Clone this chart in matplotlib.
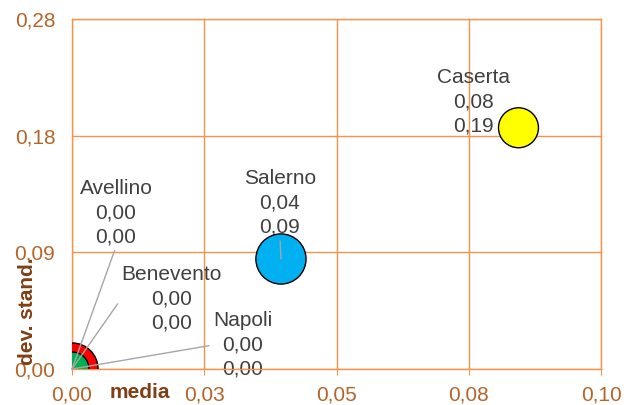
import numpy as np
import matplotlib.pyplot as plt

plt.rcParams['font.family'] = ['Liberation Sans', 'DejaVu Sans']

# dati
province = ['Avellino', 'Napoli', 'Benevento', 'Caserta', 'Salerno']
media = [0.0, 0.0, 0.0, 0.0844, 0.0395]
dev_stand = [0.0, 0.0, 0.0, 0.193, 0.088]
peso = [0.10, 0.68, 0.29, 0.40, 0.63]
colori = ['#7030A0', '#FF0000', '#00B050', '#FFFF00', '#00B0F0']

x_ticks = [0, 0.025, 0.05, 0.075, 0.10]
x_labels = ['0,00', '0,03', '0,05', '0,08', '0,10']
y_ticks = [0, 0.28 / 3, 0.56 / 3, 0.28]
y_labels = ['0,00', '0,09', '0,18', '0,28']

# posizione delle etichette (offset in punti) e attacco della linea guida
offset = {'Avellino': (31.7, 112.5), 'Benevento': (71.6, 50.6), 'Napoli': (123, 17.3),
          'Caserta': (-32.4, 18.4), 'Salerno': (-0.7, 40.3)}
guida = {'Avellino': (0.5, 0.0), 'Benevento': (0.0, 0.5), 'Napoli': (0.0, 0.5),
         'Caserta': None, 'Salerno': (0.5, 0.0)}

arancio = '#F4934A'
testo_assi = '#B5652A'
titoli = '#7F3F14'
fs = 15
ls = 1.35

fig = plt.figure(figsize=(6.33, 4.05), dpi=100)
ax = fig.add_axes([72 / 633, 36 / 405, 529 / 633, 350 / 405])

ax.scatter(media, dev_stand, s=np.array(peso) * 2070, c=colori,
           edgecolors='black', linewidths=1.0, zorder=3, clip_on=True)

for i, nome in enumerate(province):
    etichetta = '%s\n%s\n%s' % (nome, ('%.2f' % media[i]).replace('.', ','),
                                ('%.2f' % dev_stand[i]).replace('.', ','))
    ax.annotate(etichetta, (media[i], dev_stand[i]), xytext=offset[nome],
                textcoords='offset points', ha='center', va='center',
                multialignment='center', fontsize=fs, color='#404040',
                linespacing=ls, zorder=2, annotation_clip=False)
    if guida[nome] is not None:
        # linea guida sopra le bolle, testo invisibile solo per il ritaglio
        ax.annotate(etichetta, (media[i], dev_stand[i]), xytext=offset[nome],
                    textcoords='offset points', ha='center', va='center',
                    multialignment='center', fontsize=fs, color='none',
                    linespacing=ls, zorder=4, annotation_clip=False,
                    arrowprops=dict(arrowstyle='-', color='#A6A6A6', lw=1.0,
                                    shrinkA=1, shrinkB=0, relpos=guida[nome]))

ax.set_xlim(0, 0.10)
ax.set_ylim(0, 0.28)
ax.set_xticks(x_ticks)
ax.set_xticklabels(x_labels)
ax.set_yticks(y_ticks)
ax.set_yticklabels(y_labels)
ax.grid(True, color=arancio, lw=1.0, zorder=1)
ax.set_axisbelow(True)
for sp in ax.spines.values():
    sp.set_color(arancio)
    sp.set_linewidth(1.0)
ax.tick_params(axis='x', length=4, color=arancio, labelcolor=testo_assi,
               labelsize=fs, pad=8)
ax.tick_params(axis='y', length=0, labelcolor=testo_assi, labelsize=fs, pad=12)

ax.text(0.1285, -0.068, 'media', transform=ax.transAxes, ha='center', va='center',
        fontsize=fs, fontweight='bold', color=titoli)
ax.text(-0.085, 0.166, 'dev. stand.', transform=ax.transAxes, ha='center', va='center',
        rotation=90, fontsize=fs, fontweight='bold', color=titoli)

fig.savefig('out.png', dpi=100)
